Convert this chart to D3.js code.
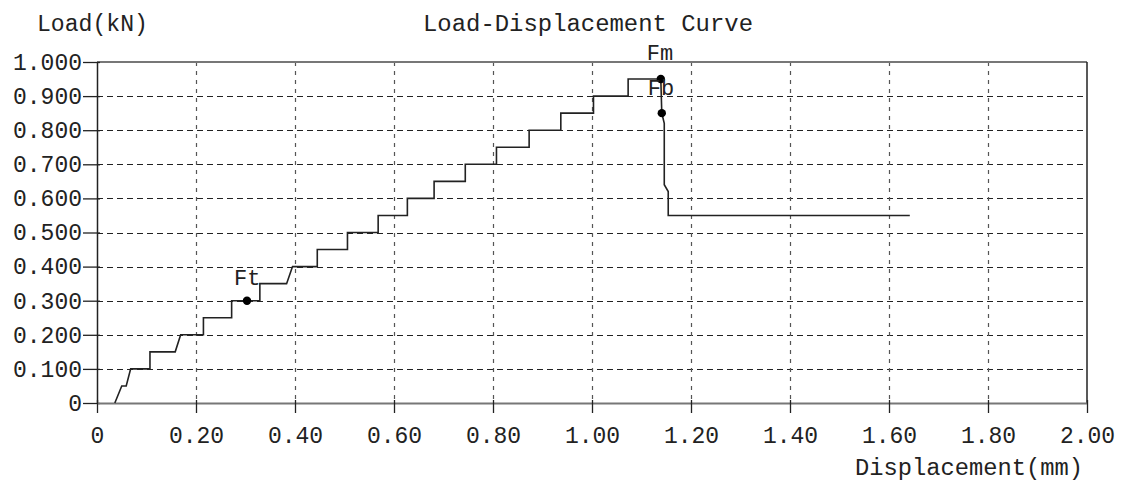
<!DOCTYPE html>
<html>
<head>
<meta charset="utf-8">
<script src="https://cdn.jsdelivr.net/npm/d3@7"></script>
<style>
  html, body { margin: 0; padding: 0; background: #fff; }
  svg { display: block; }
  text { font-family: "Liberation Mono", "DejaVu Sans Mono", monospace; fill: #222; }
</style>
</head>
<body>
<svg id="chart" width="1129" height="489"></svg>
<script>
// ---- data ----
const chartTitle = "Load-Displacement Curve";
const yAxisTitle = "Load(kN)";
const xAxisTitle = "Displacement(mm)";

const xTickValues = [0, 0.2, 0.4, 0.6, 0.8, 1.0, 1.2, 1.4, 1.6, 1.8, 2.0];
const xTickLabels = ["0", "0.20", "0.40", "0.60", "0.80", "1.00", "1.20", "1.40", "1.60", "1.80", "2.00"];
const yTickValues = [0, 0.1, 0.2, 0.3, 0.4, 0.5, 0.6, 0.7, 0.8, 0.9, 1.0];
const yTickLabels = ["0", "0.100", "0.200", "0.300", "0.400", "0.500", "0.600", "0.700", "0.800", "0.900", "1.000"];

// displacement (mm) and load (kN) of the recorded curve
const displacement = [0.036, 0.050, 0.059, 0.068, 0.107, 0.107, 0.158, 0.169, 0.215, 0.215, 0.272, 0.272,
  0.329, 0.329, 0.383, 0.395, 0.445, 0.445, 0.506, 0.506, 0.568, 0.568, 0.627, 0.627, 0.681, 0.681,
  0.744, 0.744, 0.807, 0.807, 0.873, 0.873, 0.937, 0.937, 1.003, 1.003, 1.073, 1.073, 1.139,
  1.141, 1.146, 1.146, 1.154, 1.154, 1.642];
const load = [0, 0.05, 0.05, 0.10, 0.10, 0.15, 0.15, 0.20, 0.20, 0.25, 0.25, 0.30,
  0.30, 0.35, 0.35, 0.40, 0.40, 0.45, 0.45, 0.50, 0.50, 0.55, 0.55, 0.60, 0.60, 0.65,
  0.65, 0.70, 0.70, 0.75, 0.75, 0.80, 0.80, 0.85, 0.85, 0.90, 0.90, 0.95, 0.95,
  0.85, 0.82, 0.64, 0.62, 0.55, 0.55];

const markerNames = ["Ft", "Fm", "Fb"];
const markerDisp = [0.303, 1.139, 1.141];
const markerLoad = [0.30, 0.95, 0.85];

// ---- layout ----
const svg = d3.select("#chart");
const mLeft = 97, mRight = 1087, mTop = 62, mBottom = 403;
const x = d3.scaleLinear().domain([0, 2]).range([mLeft, mRight]);
const y = d3.scaleLinear().domain([0, 1]).range([mBottom, mTop]);

// grid
svg.append("g").selectAll("line").data(yTickValues.filter(v => v > 0 && v < 1)).join("line")
  .attr("x1", mLeft).attr("x2", mRight)
  .attr("y1", d => Math.round(y(d)) + 0.5).attr("y2", d => Math.round(y(d)) + 0.5)
  .attr("stroke", "#222").attr("stroke-width", 1.2).attr("stroke-dasharray", "6,4");
svg.append("g").selectAll("line").data(xTickValues.filter(v => v > 0 && v < 2)).join("line")
  .attr("x1", d => Math.round(x(d)) + 0.5).attr("x2", d => Math.round(x(d)) + 0.5)
  .attr("y1", mTop).attr("y2", mBottom)
  .attr("stroke", "#555").attr("stroke-width", 1.2).attr("stroke-dasharray", "4,5");

// frame
svg.append("line").attr("x1", mLeft).attr("x2", mRight).attr("y1", mTop).attr("y2", mTop)
  .attr("stroke", "#777").attr("stroke-width", 2.2);
svg.append("line").attr("x1", mRight).attr("x2", mRight).attr("y1", mTop).attr("y2", mBottom)
  .attr("stroke", "#222").attr("stroke-width", 1.5);

// axes
const yAxis = d3.axisLeft(y).tickValues(yTickValues)
  .tickFormat((d, i) => yTickLabels[i]).tickSizeInner(14).tickSizeOuter(0).tickPadding(1);
const gy = svg.append("g").attr("transform", `translate(${mLeft},0)`).call(yAxis);
gy.select(".domain").attr("stroke", "#222").attr("stroke-width", 1.5);
gy.selectAll(".tick line").attr("x2", -14).attr("x1", 3).attr("stroke", "#222").attr("stroke-width", 1.3);
gy.selectAll(".tick text").attr("font-size", 23).attr("font-family", "Liberation Mono").attr("fill", "#222");

const xAxis = d3.axisBottom(x).tickValues(xTickValues)
  .tickFormat((d, i) => xTickLabels[i]).tickSizeInner(10).tickSizeOuter(0).tickPadding(14);
const gx = svg.append("g").attr("transform", `translate(0,${mBottom})`).call(xAxis);
gx.select(".domain").attr("stroke", "#777").attr("stroke-width", 2.2);
gx.selectAll(".tick line").attr("y1", -3).attr("y2", 10).attr("stroke", "#222").attr("stroke-width", 1.3);
gx.selectAll(".tick text").attr("font-size", 23).attr("font-family", "Liberation Mono").attr("fill", "#222");

// curve
const pts = displacement.map((d, i) => [d, load[i]]);
svg.append("path").datum(pts)
  .attr("d", d3.line().x(d => x(d[0])).y(d => y(d[1])))
  .attr("fill", "none").attr("stroke", "#222").attr("stroke-width", 1.6);

// markers
const labelOffsets = [[-13, -16], [-14, -19], [-14, -18]];
markerNames.forEach((name, i) => {
  svg.append("circle").attr("cx", x(markerDisp[i])).attr("cy", y(markerLoad[i])).attr("r", 4.2).attr("fill", "#000");
  svg.append("text").attr("x", x(markerDisp[i]) + labelOffsets[i][0]).attr("y", y(markerLoad[i]) + labelOffsets[i][1])
    .attr("font-size", 22).text(name);
});

// titles
svg.append("text").attr("x", 37).attr("y", 31).attr("font-size", 23)
  .attr("textLength", 111).attr("lengthAdjust", "spacingAndGlyphs").text(yAxisTitle);
svg.append("text").attr("x", 423).attr("y", 31).attr("font-size", 23)
  .attr("textLength", 330).attr("lengthAdjust", "spacingAndGlyphs").text(chartTitle);
svg.append("text").attr("x", 855).attr("y", 475).attr("font-size", 23)
  .attr("textLength", 228).attr("lengthAdjust", "spacingAndGlyphs").text(xAxisTitle);
</script>
</body>
</html>
